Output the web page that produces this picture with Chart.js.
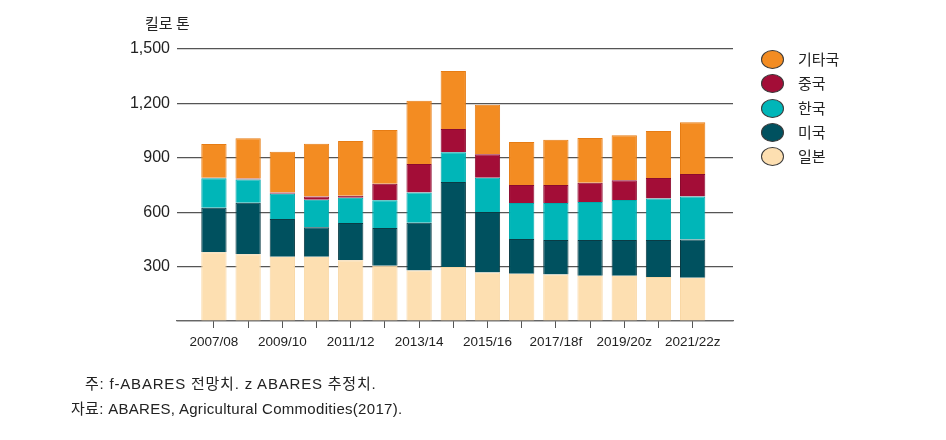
<!DOCTYPE html>
<html>
<head>
<meta charset="utf-8">
<script src="https://cdn.jsdelivr.net/npm/chart.js@4/dist/chart.umd.min.js"></script>
<style>
  html, body { margin: 0; padding: 0; background: #fff; }
  #wrap { position: relative; width: 946px; height: 440px; overflow: hidden; }
  #chart { position: absolute; left: 0; top: 0; }
  .txt { position: absolute; white-space: nowrap; color: #222;
         font-family: 'Liberation Sans', 'Noto Sans CJK KR', sans-serif; font-size: 15px; line-height: 18px; }
  #legend { position: absolute; left: 761px; top: 50px; }
  .item { position: relative; height: 24.3px; width: 120px; }
  .dot { position: absolute; left: 0; top: 0; width: 21px; height: 17px; border-radius: 50%; border: 1px solid #3a3a3a; }
  .lab { position: absolute; left: 37px; top: -1px; white-space: nowrap; font-family: 'Noto Sans CJK KR', sans-serif; font-size: 15px; line-height: 20px; color: #222; }
</style>
</head>
<body>
<div id="wrap">
  <canvas id="chart" width="946" height="440"></canvas>
  <div class="txt" style="left:145px; top:14px; font-family:'Noto Sans CJK KR', sans-serif;">킬로 톤</div>
  <div id="legend"></div>
  <div class="txt" style="left:85px; top:375px; letter-spacing:0.8px;">주: f-ABARES 전망치. z ABARES 추정치.</div>
  <div class="txt" style="left:71px; top:400px; letter-spacing:0.3px;">자료: ABARES, Agricultural Commodities(2017).</div>
</div>
<script>
// Years (marketing years), f = forecast, z = projection
const years = ['2007/08', '2008/09', '2009/10', '2010/11', '2011/12', '2012/13', '2013/14', '2014/15',
               '2015/16', '2016/17', '2017/18f', '2018/19z', '2019/20z', '2020/21z', '2021/22z'];

// kilo tonnes (bottom to top)
const japan  = [379, 368, 355, 355, 335, 305, 279, 298, 268, 261, 257, 250, 250, 243, 239];
const usa    = [246, 284, 207, 162, 205, 208, 263, 469, 333, 191, 190, 197, 197, 204, 211];
const korea  = [162, 129, 140, 152, 140, 153, 166, 163, 189, 199, 204, 209, 220, 229, 236];
const china  = [3, 5, 6, 17, 11, 91, 158, 129, 129, 99, 99, 107, 109, 113, 125];
const others = [186, 222, 226, 292, 302, 296, 349, 320, 274, 237, 250, 246, 248, 259, 285];

const yTicks = [0, 300, 600, 900, 1200, 1500];

const SERIES = [
    { label: '일본',   data: japan,  color: '#FDDFB1', border: '#F9D7A4' },
    { label: '미국',   data: usa,    color: '#00515F', border: '#0A3C45' },
    { label: '한국',   data: korea,  color: '#00B6B8', border: '#00A8AA' },
    { label: '중국',   data: china,  color: '#A30D37', border: '#8C0A2E' },
    { label: '기타국', data: others, color: '#F38C22', border: '#E67C14' }
];

const datasets = SERIES.map(s => ({
    label: s.label,
    data: s.data.map((v, i) => ({ x: i, y: v })),
    backgroundColor: s.color,
    borderColor: s.border,
    borderWidth: 1,
    borderSkipped: 'start',
    barPercentage: 0.74,
    categoryPercentage: 1
}));

// legend, top entry = top of stack
const legend = document.getElementById('legend');
SERIES.slice().reverse().forEach(s => {
    const row = document.createElement('div');
    row.className = 'item';
    row.innerHTML = `<span class="dot" style="background:${s.color}"></span><span class="lab">${s.label}</span>`;
    legend.appendChild(row);
});

new Chart(document.getElementById('chart'), {
    type: 'bar',
    data: { datasets },
    options: {
        responsive: false,
        animation: false,
        layout: { padding: { left: 0, right: 213, top: 49, bottom: 0 } },
        plugins: {
            legend: { display: false },
            tooltip: { enabled: false }
        },
        scales: {
            x: {
                type: 'linear',
                stacked: true,
                offset: false,
                min: -1.08,
                max: 15.18,
                afterBuildTicks: scale => {
                    scale.ticks = years.map((_, i) => ({ value: i }));
                },
                afterFit: scale => { scale.height = 119; },
                grid: {
                    drawOnChartArea: false,
                    drawTicks: true,
                    offset: false,
                    tickLength: 7,
                    color: '#555'
                },
                border: { display: true, color: '#666', width: 1.2 },
                ticks: {
                    autoSkip: false,
                    maxRotation: 0,
                    padding: 6,
                    color: '#222',
                    font: { family: "'Liberation Sans', sans-serif", size: 13.5 },
                    callback: v => (v % 2 === 0 ? years[v] : '')
                }
            },
            y: {
                stacked: true,
                min: 0,
                max: 1500,
                afterBuildTicks: scale => {
                    scale.ticks = yTicks.map(v => ({ value: v }));
                },
                afterFit: scale => { scale.width = 177; },
                grid: {
                    drawTicks: false,
                    color: '#555',
                    lineWidth: 1.2
                },
                border: { display: false },
                ticks: {
                    padding: 7,
                    color: '#222',
                    font: { family: "'Liberation Sans', sans-serif", size: 16 },
                    callback: v => (v === 0 ? '' : v.toLocaleString('en-US'))
                }
            }
        }
    }
});
</script>
</body>
</html>
